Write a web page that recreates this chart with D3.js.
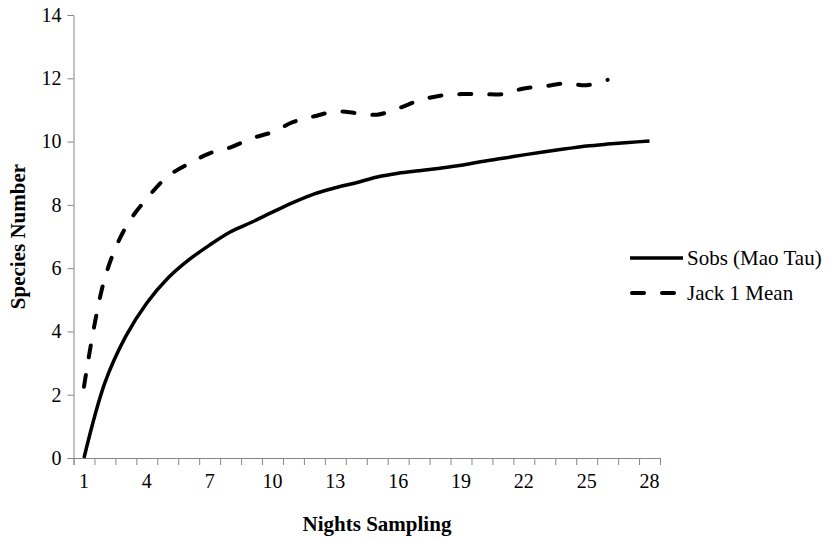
<!DOCTYPE html>
<html>
<head>
<meta charset="utf-8">
<script src="https://cdn.jsdelivr.net/npm/d3@7"></script>
<style>
  body { margin: 0; background: #fff; }
  svg text { font-family: "Liberation Serif", "Times New Roman", serif !important; fill: #000; }
</style>
</head>
<body>
<div id="chart"></div>
<script>
// nights sampled (categories)
var nights = d3.range(1, 29);
// Sobs (Mao Tau) observed species, one per night
var sobs = [0, 2.38, 3.85, 4.9, 5.68, 6.26, 6.73, 7.15, 7.45, 7.77, 8.08, 8.35, 8.54, 8.7,
            8.88, 9.0, 9.08, 9.16, 9.25, 9.37, 9.47, 9.58, 9.68, 9.77, 9.86, 9.92, 9.97, 10.02];
// Jack 1 mean estimate (stops at night 26)
var jack1 = [2.25, 5.7, 7.3, 8.2, 8.9, 9.3, 9.63, 9.82, 10.1, 10.3, 10.62, 10.8, 10.95,
             10.9, 10.85, 11.05, 11.3, 11.45, 11.5, 11.5, 11.5, 11.68, 11.75, 11.84, 11.78, 11.95];
var xTickLabels = [1, 4, 7, 10, 13, 16, 19, 22, 25, 28];
var yTicks = [0, 2, 4, 6, 8, 10, 12, 14];
var seriesNames = ["Sobs (Mao Tau)", "Jack 1 Mean"];

var width = 827, height = 538;
var margin = {left: 73.5, right: 167, top: 15, bottom: 80};
var serif = '"Liberation Serif", "Times New Roman", serif';

var svg = d3.select("#chart").append("svg")
    .attr("width", width)
    .attr("height", height)
    .attr("font-family", serif);

var x = d3.scaleBand()
    .domain(nights)
    .range([margin.left, width - margin.right]);

// boundaries between categories, for the tick marks
var xEdge = d3.scaleLinear()
    .domain([0, nights.length])
    .range([margin.left, width - margin.right]);

var y = d3.scaleLinear()
    .domain([0, 14])
    .range([height - margin.bottom, margin.top]);

var axisColor = "#868686";

// x axis: tick marks between nights
var gx = svg.append("g")
    .attr("transform", "translate(0," + y(0) + ")")
    .call(d3.axisBottom(xEdge).tickValues(d3.range(0, nights.length + 1)).tickFormat("").tickSize(7).tickSizeOuter(7));
gx.selectAll("path,line").attr("stroke", axisColor);

// x labels at every third night
var gxl = svg.append("g")
    .attr("transform", "translate(0," + y(0) + ")")
    .call(d3.axisBottom(x).tickValues(xTickLabels).tickSize(0).tickPadding(16));
gxl.select(".domain").remove();
gxl.attr("font-family", serif).attr("font-size", 20);

// y axis
var gy = svg.append("g")
    .attr("transform", "translate(" + margin.left + ",0)")
    .call(d3.axisLeft(y).tickValues(yTicks).tickSize(6).tickSizeOuter(6).tickPadding(6));
gy.selectAll("path,line").attr("stroke", axisColor);
gy.attr("font-family", serif).attr("font-size", 20);

// axis titles
svg.append("text")
    .attr("x", 377)
    .attr("y", 531)
    .attr("text-anchor", "middle")
    .attr("font-size", 21)
    .attr("font-weight", "bold")
    .text("Nights Sampling");

svg.append("text")
    .attr("transform", "translate(25," + ((y(0) + y(14)) / 2) + ") rotate(-90)")
    .attr("text-anchor", "middle")
    .attr("font-size", 21)
    .attr("font-weight", "bold")
    .text("Species Number");

var line = d3.line()
    .x(function(d, i) { return x(nights[i]) + x.bandwidth() / 2; })
    .y(function(d) { return y(d); })
    .curve(d3.curveCatmullRom.alpha(0.5));

svg.append("path")
    .datum(sobs)
    .attr("fill", "none")
    .attr("stroke", "#000")
    .attr("stroke-width", 3.5)
    .attr("stroke-linejoin", "round")
    .attr("d", line);

svg.append("path")
    .datum(jack1)
    .attr("fill", "none")
    .attr("stroke", "#000")
    .attr("stroke-width", 4)
    .attr("stroke-linecap", "round")
    .attr("stroke-dasharray", "12,18")
    .attr("d", line);

// legend
var legend = svg.append("g").attr("transform", "translate(630,258)");
seriesNames.forEach(function(name, i) {
    var row = legend.append("g").attr("transform", "translate(0," + (i * 35) + ")");
    var l = row.append("line")
        .attr("x1", i ? 2 : 0).attr("x2", i ? 51 : 53)
        .attr("y1", 0).attr("y2", 0)
        .attr("stroke", "#000")
        .attr("stroke-width", i ? 4 : 3.5);
    if (i) l.attr("stroke-linecap", "round").attr("stroke-dasharray", "12,18");
    row.append("text")
        .attr("x", 57)
        .attr("y", 0)
        .attr("dy", "0.35em")
        .attr("font-size", 21)
        .text(name);
});
</script>
</body>
</html>
